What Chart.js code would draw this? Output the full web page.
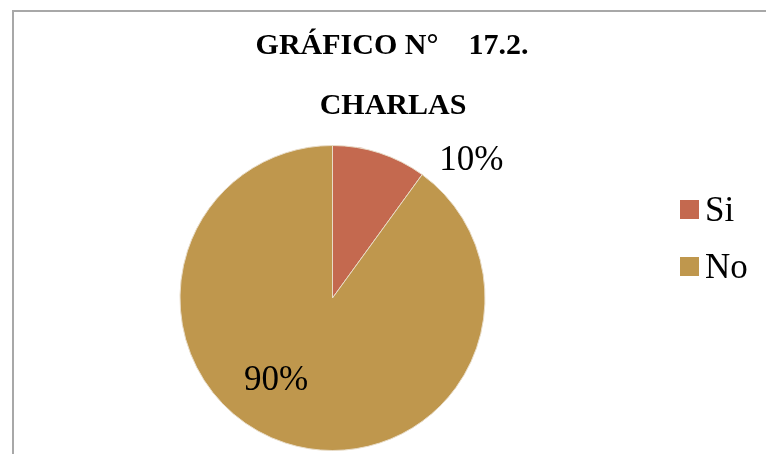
<!DOCTYPE html>
<html>
<head>
<meta charset="utf-8">
<script src="https://cdn.jsdelivr.net/npm/chart.js@4"></script>
<style>
  html, body { margin: 0; padding: 0; background: #fff; }
  #frame {
    position: absolute; left: 12px; top: 10px;
    width: 800px; height: 500px;
    border-left: 2px solid #a8a8a8; border-top: 2px solid #a8a8a8;
  }
  #wrap { position: absolute; left: 0; top: 0; width: 766px; height: 454px; }
</style>
</head>
<body>
<div id="frame"></div>
<div id="wrap"><canvas id="pieChart" width="766" height="454"></canvas></div>
<script>
const categories = ['Si', 'No'];
const values = [10, 90];
const colors = ['#C4694F', '#BF974D'];
const titleLines = ['GRÁFICO N°    17.2.', 'CHARLAS'];

// where the percent labels sit, as fractions of the radius from the centre
const labelAnchors = [[0.91, -0.90], [-0.37, 0.54]];

const serif = '"Liberation Serif", "Times New Roman", serif';

// title, legend and percent labels, drawn like the original document
const extras = {
  id: 'extras',
  afterDraw(chart) {
    const ctx = chart.ctx;
    const arc = chart.getDatasetMeta(0).data[0];
    const cx = arc.x, cy = arc.y, r = arc.outerRadius;
    ctx.save();
    ctx.fillStyle = '#000';
    ctx.textAlign = 'center';
    ctx.textBaseline = 'alphabetic';
    ctx.font = 'bold 30px ' + serif;
    ctx.fillText(titleLines[0], 392, 54);
    ctx.fillText(titleLines[1], 393, 114);

    const total = values.reduce((a, b) => a + b, 0);
    ctx.font = '35px ' + serif;
    ctx.textBaseline = 'middle';
    values.forEach((v, i) => {
      const pct = Math.round(v / total * 100) + '%';
      ctx.fillText(pct, cx + labelAnchors[i][0] * r, cy + labelAnchors[i][1] * r);
    });

    ctx.textAlign = 'left';
    ctx.textBaseline = 'alphabetic';
    ctx.font = '35px ' + serif;
    categories.forEach((c, i) => {
      const y = 200 + i * 57;
      ctx.fillStyle = colors[i];
      ctx.fillRect(680, y, 19, 19);
      ctx.fillStyle = '#000';
      ctx.fillText(c, 705, y + 21);
    });
    ctx.restore();
  }
};

new Chart(document.getElementById('pieChart').getContext('2d'), {
  type: 'pie',
  data: {
    labels: categories,
    datasets: [{
      data: values,
      backgroundColor: colors,
      borderColor: '#e8dcc8',
      borderWidth: 1
    }]
  },
  options: {
    responsive: false,
    animation: false,
    layout: { padding: { left: 179, right: 280, top: 145, bottom: 3 } },
    plugins: {
      legend: { display: false },
      tooltip: { enabled: false }
    }
  },
  plugins: [extras]
});
</script>
</body>
</html>
